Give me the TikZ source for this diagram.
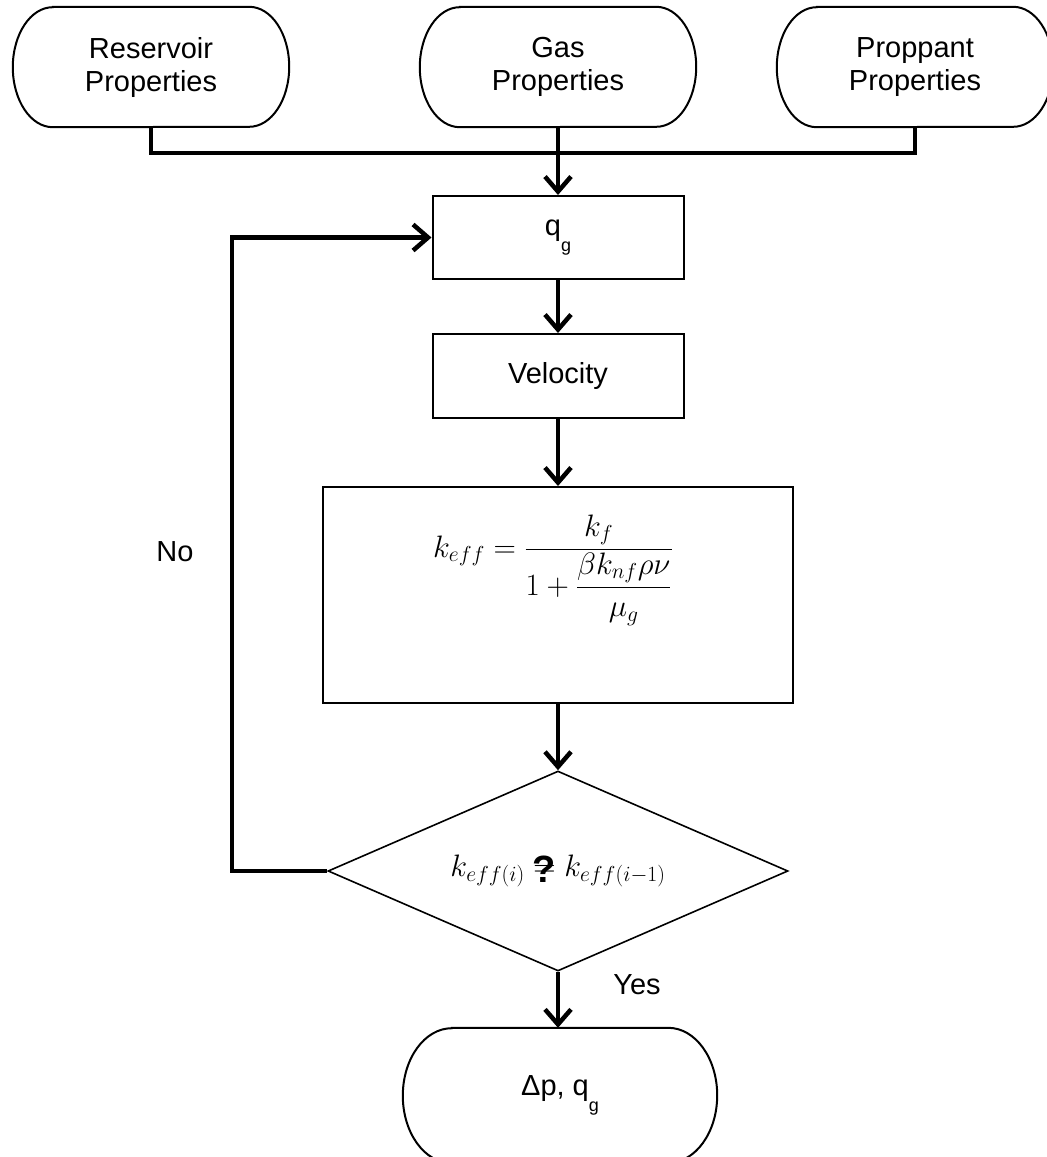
\RequirePackage{fix-cm}
\documentclass[tikz,border=0pt]{standalone}
\usepackage{amsmath}
\usepackage{fontspec}
\setmainfont{Liberation Sans}
\usetikzlibrary{arrows.meta,shapes.geometric}

\newcommand\termoutline[3]{% node, x radius, y radius
  \draw[termline] ([xshift=#2pt]#1.north west) -- ([xshift=-#2pt]#1.north east)
    arc[start angle=90,end angle=-90,x radius=#2pt,y radius=#3pt]
    -- ([xshift=#2pt]#1.south west)
    arc[start angle=270,end angle=90,x radius=#2pt,y radius=#3pt] -- cycle;}
\newcommand\lowsub[1]{\raisebox{-16pt}{\fontsize{18}{18}\selectfont #1}}

\tikzset{
  txt/.style={font=\fontsize{29}{33}\selectfont, align=center},
  mathtxt/.style={font=\fontsize{31}{35}\selectfont},
  procbox/.style={txt, draw, line width=2pt, inner sep=0pt},
  termnode/.style={txt, inner sep=0pt},
  termline/.style={line width=2pt},
  thk/.style={line width=4.5pt},
  flow/.style={thk, -{Straight Barb[length=15pt,width=26pt]}},
}

\begin{document}
\begin{tikzpicture}[x=1pt,y=-1pt]
\useasboundingbox (0,0) rectangle (1047,1157);

% top terminals
\node[termnode, minimum width=276pt, minimum height=120pt] (res) at (151,67) {Reservoir\\Properties};
\node[termnode, minimum width=276pt, minimum height=120pt] (gas) at (558,67) {Gas\\Properties};
\node[termnode, minimum width=276pt, minimum height=120pt] (prop) at (915,67) {Proppant\\Properties};
\termoutline{res}{40}{60}
\termoutline{gas}{40}{60}
\termoutline{prop}{40}{60}

% process boxes
\node[procbox, minimum width=251pt, minimum height=83pt] (qg) at (558,237.5) {q\lowsub{g}};
\node[procbox, minimum width=251pt, minimum height=84pt] (vel) at (558,376) {Velocity};
\node[procbox, minimum width=470pt, minimum height=216pt] (form) at (558,595) {};
\node[mathtxt] (formtext) at (553,570)
  {$\displaystyle k_{eff}=\frac{k_f}{1+\dfrac{\beta k_{nf}\rho\nu}{\mu_g}}$};

% decision
\node[draw, diamond, line width=1.6pt, minimum width=460pt, minimum height=200pt,
      inner sep=0pt, aspect=2.3, mathtxt] (dia) at (558,871)
  {$k_{eff(i)}\mathrel{\mbox{\ooalign{$=$\cr\hidewidth\raisebox{-6pt}{\fontsize{38}{38}\selectfont\bfseries ?}\hidewidth\cr}}}k_{eff(i-1)}$};

% output terminal
\node[termnode, minimum width=314pt, minimum height=135pt] (out) at (560,1095.5) {Δp, q\lowsub{g}};
\termoutline{out}{49}{67.5}

% labels
\node[txt] (no) at (175,552) {No};
\node[txt] (yes) at (637,985) {Yes};

% connectors
\coordinate (bus) at (558,153);
\draw[thk] (res.south) -- (res.south |- bus) -- (prop.south |- bus) -- (prop.south);
\draw[flow] (gas.south) -- (qg.north);
\draw[flow] (qg.south) -- (vel.north);
\draw[flow] (vel.south) -- (form.north);
\draw[flow] (form.south) -- (dia.north);
\draw[flow] (dia.south) -- (dia.south |- out.north);
\coordinate (lx) at (232,0);
\draw[flow] (dia.west) -- (dia.west -| lx) -- (qg.west -| lx) -- (qg.west);
\end{tikzpicture}
\end{document}
